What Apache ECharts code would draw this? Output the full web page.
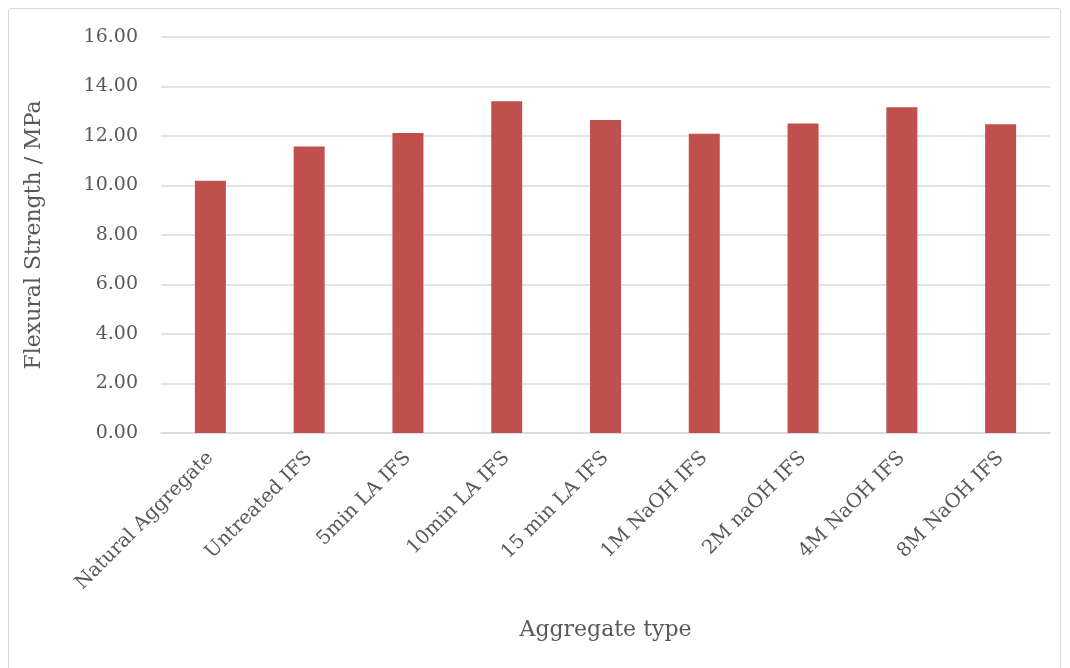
<!DOCTYPE html>
<html>
<head>
<meta charset="utf-8">
<script src="https://cdn.jsdelivr.net/npm/echarts@6/dist/echarts.min.js"></script>
<style>
  html, body { margin: 0; padding: 0; background: #fff; }
  #frame { position: absolute; left: 8px; top: 8px; width: 1053px; height: 670px; border: 1px solid #d9d9d9; border-radius: 3px; box-sizing: border-box; }
  #chart { width: 1070px; height: 668px; position: absolute; left: 0; top: 0; }
</style>
</head>
<body>
<div id="frame"></div>
<div id="chart"></div>
<script>
var categories = ['Natural Aggregate', 'Untreated IFS', '5min LA IFS', '10min LA IFS', '15 min LA IFS',
    '1M NaOH IFS', '2M naOH IFS', '4M NaOH IFS', '8M NaOH IFS'];
var strength = [10.19, 11.58, 12.12, 13.40, 12.65, 12.09, 12.51, 13.16, 12.47];
var yTicks = [0, 2, 4, 6, 8, 10, 12, 14, 16];

var font = 'DejaVu Serif';
var option = {
    grid: { left: 161, right: 20, top: 37, bottom: 235, containLabel: false },
    xAxis: {
        type: 'category',
        data: categories,
        name: 'Aggregate type',
        nameLocation: 'middle',
        nameGap: 186,
        nameTextStyle: { fontFamily: font, fontSize: 22, color: '#595959' },
        axisLine: { lineStyle: { color: '#d9d9d9', width: 1.5 } },
        axisTick: { show: false },
        axisLabel: { rotate: 45, interval: 0, margin: 22, fontFamily: font, fontSize: 19.5, color: '#595959' }
    },
    yAxis: {
        type: 'value',
        min: yTicks[0],
        max: yTicks[yTicks.length - 1],
        interval: 2,
        name: 'Flexural Strength / MPa',
        nameLocation: 'middle',
        nameGap: 116,
        nameTextStyle: { fontFamily: font, fontSize: 22, color: '#595959' },
        axisLine: { show: false },
        axisTick: { show: false },
        splitLine: { lineStyle: { color: '#d9d9d9', width: 1.5 } },
        axisLabel: {
            margin: 23, fontFamily: font, fontSize: 19, color: '#595959',
            formatter: function (v) { return v.toFixed(2); }
        }
    },
    series: [{
        type: 'bar',
        data: strength,
        barWidth: 31,
        itemStyle: { color: '#C0504D' }
    }]
};
var chart = echarts.init(document.getElementById('chart'));
chart.setOption(option);
</script>
</body>
</html>
